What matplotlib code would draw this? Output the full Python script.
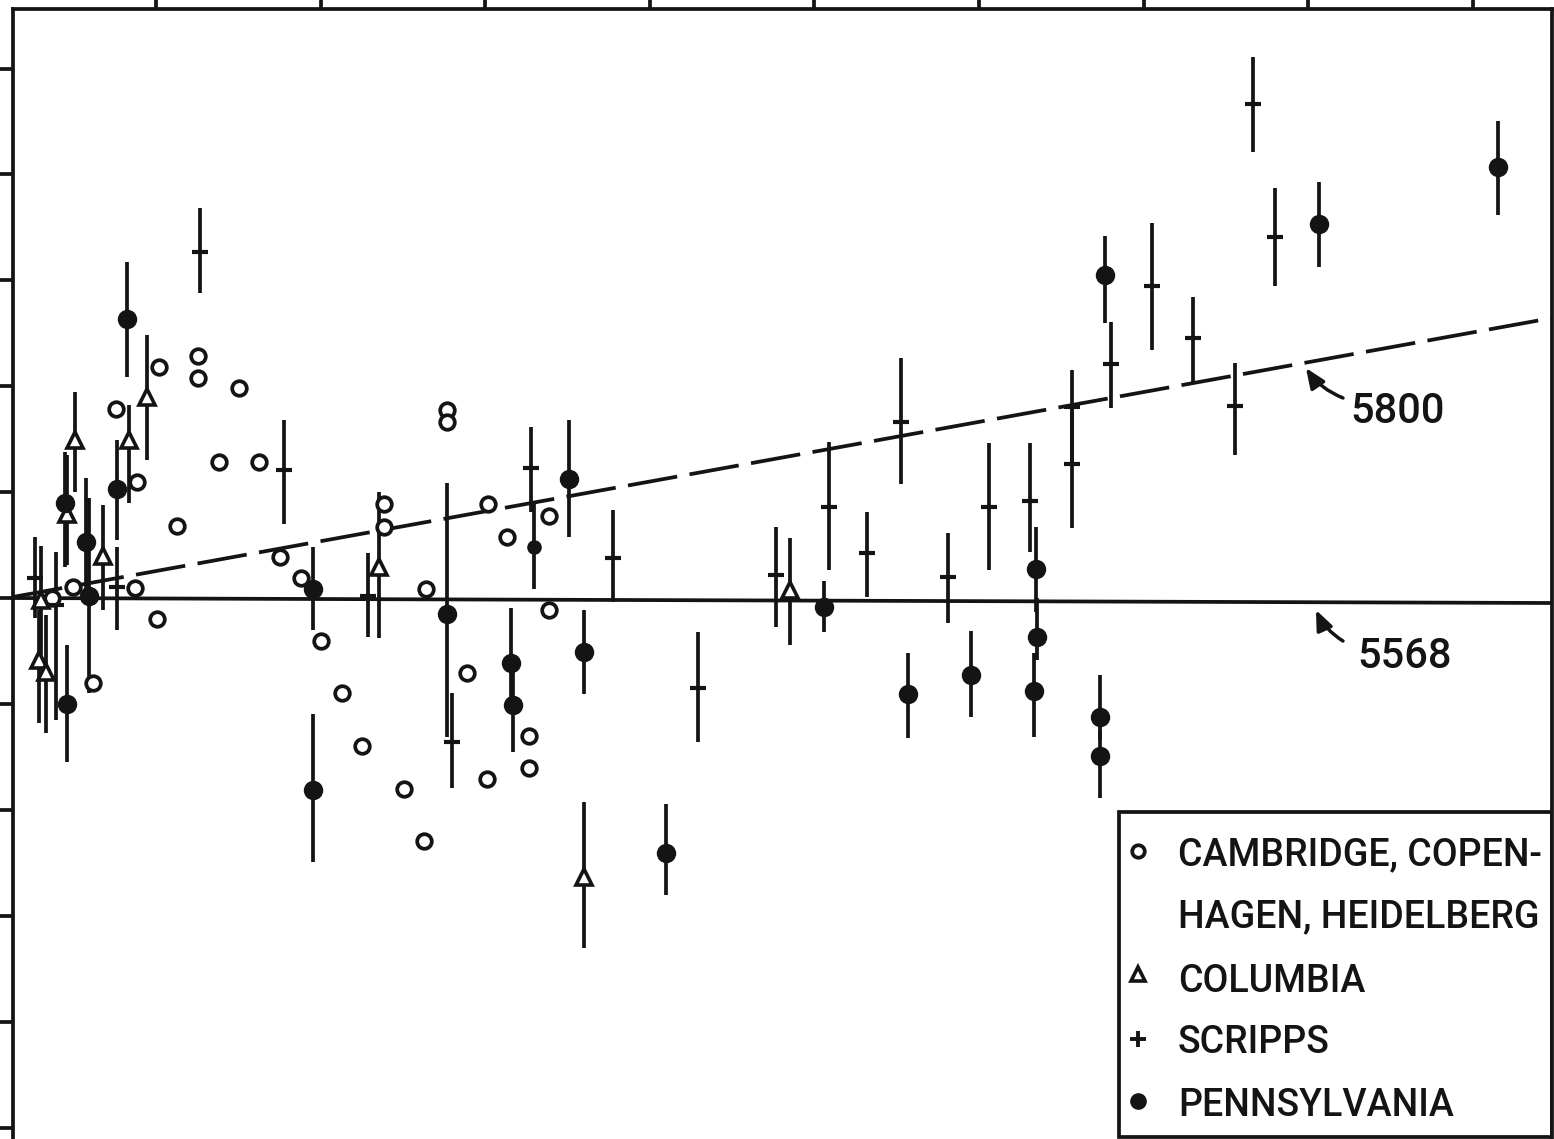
import matplotlib
matplotlib.use("Agg")
import matplotlib.pyplot as plt
from matplotlib.patches import Rectangle
import numpy as np

plt.rcParams["font.family"] = ["Roboto", "DejaVu Sans"]
plt.rcParams["lines.scale_dashes"] = False

INK = "#141414"
LW = 2.7

# Cambridge, Copenhagen, Heidelberg (plotted without error bars)
cch_x = [0.365, 0.486, 0.626, 0.741, 0.753, 0.875, 0.887, 0.996, 1.124, 1.124,
         1.252, 1.373, 1.495, 1.622, 1.750, 1.871, 1.999, 2.120, 2.254, 2.254,
         2.375, 2.509, 2.497, 2.637, 2.637, 2.758, 2.880, 2.886, 3.001, 3.135,
         3.135, 3.256, 3.256, 0.237]
cch_y = [0.104, -0.803, 1.785, 0.094, 1.095, -0.198, 2.181, 0.680, 2.285, 2.077,
         1.284, 1.983, 1.284, 0.387, 0.189, -0.406, -0.897, -1.398, 0.888, 0.670,
         -1.804, 0.085, -2.295, 1.775, 1.662, -0.708, -1.709, 0.888, 0.576, -1.303,
         -1.605, 0.774, -0.113, 0.0]

# Columbia: value with top and bottom of the error bar
col_x = [0.170, 0.158, 0.200, 0.328, 0.377, 0.547, 0.705, 0.814, 2.224, 3.469, 4.721]
col_y = [-0.019, -0.585, -0.699, 0.793, 1.492, 0.397, 1.492, 1.898, 0.293, -2.635, 0.076]
col_hi = [0.491, -0.113, -0.161, 1.350, 1.945, 0.878, 1.822, 2.483, 1.001, -1.926, 0.567]
col_lo = [-0.538, -1.180, -1.275, 0.312, 1.001, -0.113, 0.897, 1.303, -0.378, -3.305, -0.444]

# Scripps
scr_x = [0.134, 0.261, 0.632, 1.136, 1.646, 2.157, 2.667, 3.147, 3.645, 4.162,
         4.635, 4.957, 5.188, 5.395, 5.680, 5.930, 6.179, 6.434, 6.434, 6.671,
         6.920, 7.169, 7.424, 7.533, 7.667]
scr_y = [0.189, -0.066, 0.104, 3.267, 1.209, 0.019, -1.360, 1.228, 0.378, -0.850,
         0.217, 0.859, 0.425, 1.662, 0.198, 0.859, 0.916, 1.804, 1.265, 2.210,
         2.946, 2.455, 1.813, 4.665, 3.409]
scr_hi = [0.576, 0.434, 0.482, 3.683, 1.681, 0.425, -0.897, 1.615, 0.831, -0.321,
          0.670, 1.473, 0.812, 2.266, 0.614, 1.464, 1.464, 2.153, 1.804, 2.606,
          3.541, 2.842, 2.219, 5.109, 3.872]
scr_lo = [-0.189, -1.152, -0.302, 2.880, 0.699, -0.368, -1.794, 0.812, -0.038, -1.360,
          -0.274, 0.264, 0.009, 1.076, -0.236, 0.264, 0.434, 1.256, 0.661, 1.794,
          2.342, 2.030, 1.350, 4.212, 2.946]

# Pennsylvania
pen_x = [0.316, 0.328, 0.444, 0.462, 0.632, 0.693, 1.823, 1.823, 2.637, 3.026,
         3.038, 3.165, 3.378, 3.469, 3.967, 4.927, 5.437, 5.820, 6.215, 6.221,
         6.203, 6.604, 6.604, 6.634, 7.934, 9.022]
pen_y = [0.897, -1.001, 0.529, 0.019, 1.029, 2.635, 0.085, -1.813, -0.151, -0.614,
         -1.010, 0.482, 1.124, -0.510, -2.408, -0.085, -0.907, -0.727, 0.274, -0.368,
         -0.878, -1.124, -1.492, 3.050, 3.532, 4.070]
pen_hi = [1.379, -0.444, 1.133, 0.944, 1.492, 3.173, 0.482, -1.095, 1.086, -0.094,
          -0.614, 0.888, 1.681, -0.113, -1.945, 0.161, -0.519, -0.312, 0.670, 0.0,
          -0.519, -0.727, -1.246, 3.418, 3.928, 4.504]
pen_lo = [0.293, -1.549, -0.019, -0.897, 0.548, 2.087, -0.302, -2.493, -1.313, -1.010,
          -1.454, 0.085, 0.576, -0.907, -2.805, -0.321, -1.322, -1.124, -0.132, -0.585,
          -1.313, -1.341, -1.889, 2.597, 3.126, 3.617]
pen_small = [11]  # one point drawn with a smaller dot

# reference lines for the two half-lives
ref_x = [0.0, 9.35]
line_5568 = [0.0, -0.047]
line_5800 = [0.01, 2.644]

x_ticks = [0.869 + k for k in range(9)]
y_ticks = list(range(-5, 6))


def yerr(y, hi, lo):
    y, hi, lo = np.asarray(y), np.asarray(hi), np.asarray(lo)
    return [y - lo, hi - y]


fig = plt.figure(figsize=(15.54, 11.39), dpi=100)
ax = fig.add_axes([0.00837, -0.00527, 0.99035, 0.99737])
ax.set_xlim(0, 9.35)
ax.set_ylim(-5.165, 5.562)

ax.plot(ref_x, line_5568, color=INK, lw=LW, zorder=1)
ax.plot(ref_x, line_5800, color=INK, lw=LW, dashes=(36, 9), zorder=1)

# error bars
for xs, ys, hi, lo in [(col_x, col_y, col_hi, col_lo),
                       (scr_x, scr_y, scr_hi, scr_lo),
                       (pen_x, pen_y, pen_hi, pen_lo)]:
    ax.errorbar(xs, ys, yerr=yerr(ys, hi, lo), fmt="none", ecolor=INK,
                elinewidth=LW, capsize=0, zorder=2)

ax.plot(cch_x, cch_y, "o", ms=10.5, mfc="white", mec=INK, mew=2.7, ls="none", zorder=3)
ax.plot(col_x, col_y, "^", ms=12, mfc="white", mec=INK, mew=2.6, ls="none", zorder=3)
ax.plot(scr_x, scr_y, "_", ms=12, mec=INK, mew=3.0, ls="none", zorder=3)
big = [i for i in range(len(pen_x)) if i not in pen_small]
ax.plot([pen_x[i] for i in big], [pen_y[i] for i in big], "o", ms=14,
        color=INK, mew=0, ls="none", zorder=3)
ax.plot([pen_x[i] for i in pen_small], [pen_y[i] for i in pen_small], "o", ms=10.5,
        color=INK, mew=0, ls="none", zorder=3)

# line labels
lbl = dict(ha="left", va="baseline", fontsize=30, color=INK, fontweight="medium")
ax.text(8.123, 1.652, "5800", **lbl)
ax.text(8.165, -0.661, "5568", **lbl)
arrow = dict(arrowstyle="-|>,head_length=0.6,head_width=0.25", lw=2.5, color=INK,
             shrinkA=0, shrinkB=0, mutation_scale=20,
             connectionstyle="arc3,rad=-0.15")
ax.annotate("", xy=(7.855, 2.172), xytext=(8.080, 1.889), arrowprops=arrow)
ax.annotate("", xy=(7.916, -0.113), xytext=(8.080, -0.406), arrowprops=arrow)

# legend box
ax.add_patch(Rectangle((0.7187, 0.0070), 0.2813, 0.2861, transform=ax.transAxes,
                       fill=False, ec=INK, lw=LW, zorder=4))
mx, tx = 0.7310, 0.757
ax.plot([mx], [0.2585], "o", ms=9, mfc="white", mec=INK, mew=2.7,
        transform=ax.transAxes, zorder=5)
ax.plot([mx], [0.1505], "^", ms=10, mfc="white", mec=INK, mew=2.6,
        transform=ax.transAxes, zorder=5)
ax.plot([mx], [0.0935], "+", ms=11.5, mec=INK, mew=2.8,
        transform=ax.transAxes, zorder=5)
ax.plot([mx], [0.0385], "o", ms=12, color=INK, mew=0,
        transform=ax.transAxes, zorder=5)
for yb, s in [(0.2465, "CAMBRIDGE, COPEN-"), (0.1919, "HAGEN, HEIDELBERG"),
              (0.1347, "COLUMBIA"), (0.0810, "SCRIPPS"), (0.0255, "PENNSYLVANIA")]:
    ax.text(tx, yb, s, ha="left", va="baseline", transform=ax.transAxes,
            fontsize=27, color=INK, fontweight="medium")

# frame and ticks
for side in ax.spines.values():
    side.set_color(INK)
    side.set_linewidth(LW)
ax.xaxis.tick_top()
ax.set_xticks(x_ticks)
ax.set_yticks(y_ticks)
ax.set_xticklabels([])
ax.set_yticklabels([])
ax.tick_params(axis="x", direction="out", length=10, width=LW, color=INK,
               top=True, bottom=False, labeltop=False, labelbottom=False)
ax.tick_params(axis="y", direction="out", length=9.5, width=LW, color=INK,
               left=True, right=False, labelleft=False)

fig.savefig("out.png", dpi=100)
